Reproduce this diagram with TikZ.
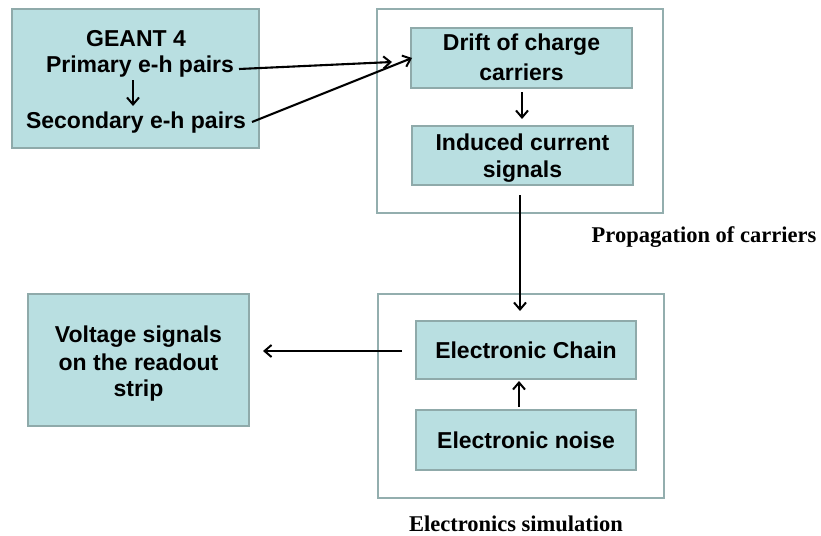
\documentclass[tikz,border=0pt]{standalone}
\usepackage{fontspec}
\setmainfont{Liberation Sans}
\newfontfamily\labelfont{Liberation Serif}
\usetikzlibrary{arrows.meta}
\definecolor{boxfill}{HTML}{B9DFE1}
\definecolor{boxline}{HTML}{8FAAAA}
\definecolor{outerline}{HTML}{93AEAE}
\tikzset{
  cbox/.style={draw=boxline, line width=2pt, fill=boxfill, inner sep=0pt, align=center},
  outerbox/.style={draw=outerline, line width=2pt, fill=none},
  btext/.style={inner sep=0pt, font=\fontsize{23}{28}\selectfont\bfseries, anchor=base},
  conn/.style={line width=2.1pt, -{Straight Barb[length=7pt,width=12pt,line width=2pt]}},
  caption/.style={inner sep=0pt, anchor=base, font=\fontsize{22.5}{27}\selectfont\labelfont\bfseries}
}
\begin{document}
\begin{tikzpicture}[x=1pt,y=-1pt]
\useasboundingbox (0,0) rectangle (821,535);
% outer frames
\draw[outerbox] (377,9) rectangle (663,213);
\draw[outerbox] (378,294) rectangle (664,498);
% GEANT box
\node[cbox, minimum width=247pt, minimum height=139pt] (geant) at (135.5,78.5) {};
\node[btext] (gtitle) at (136,46) {GEANT 4};
\node[btext] (prim) at (140,72) {Primary e-h pairs};
\node[btext] (sec) at (136,128) {Secondary e-h pairs};
% propagation boxes
\node[cbox, minimum width=221pt, minimum height=60pt] (drift) at (521.5,58) {};
\node[btext] (drifttxt) at (521.5,51) {Drift of charge};
\node[btext] (drifttxt2) at (521.5,80) {carriers};
\node[cbox, minimum width=221pt, minimum height=59pt] (induced) at (522.5,155.5) {};
\node[btext] (indtxt) at (522.5,150) {Induced current};
\node[btext] (indtxt2) at (522.5,177) {signals};
% electronics boxes
\node[cbox, minimum width=220pt, minimum height=58pt] (chain) at (526,350) {};
\node[btext] (chaintxt) at (526,358) {Electronic Chain};
\node[cbox, minimum width=220pt, minimum height=60pt] (noise) at (526,440) {};
\node[btext] (noisetxt) at (526,448) {Electronic noise};
% voltage box
\node[cbox, minimum width=221pt, minimum height=132pt] (volt) at (138.5,360) {};
\node[btext] (vt1) at (138.5,342) {Voltage signals};
\node[btext] (vt2) at (138.5,370) {on the readout};
\node[btext] (vt3) at (138.5,396) {strip};
% captions
\node[caption] (capprop) at (704,242) {Propagation of carriers};
\node[caption] (capelec) at (516,531) {Electronics simulation};
% connectors
\coordinate (pstart) at (239,69);
\coordinate (pend) at (392,62);
\coordinate (sstart) at (252,122);
\coordinate (send) at (412,58);
\draw[conn] (pstart) -- (pend);
\draw[conn] (sstart) -- (send);
\coordinate (gastart) at (133,80);
\coordinate (gaend) at (133,106);
\draw[conn] (gastart) -- (gaend);
\coordinate (dstart) at (522,92);
\coordinate (dend) at (522,119);
\draw[conn] (dstart) -- (dend);
\coordinate (istart) at (520,195);
\coordinate (iend) at (520,311);
\draw[conn] (istart) -- (iend);
\coordinate (nstart) at (519,407);
\coordinate (nend) at (519,381);
\draw[conn] (nstart) -- (nend);
\coordinate (cstart) at (402,351);
\coordinate (cend) at (263,351);
\draw[conn] (cstart) -- (cend);
\end{tikzpicture}
\end{document}
